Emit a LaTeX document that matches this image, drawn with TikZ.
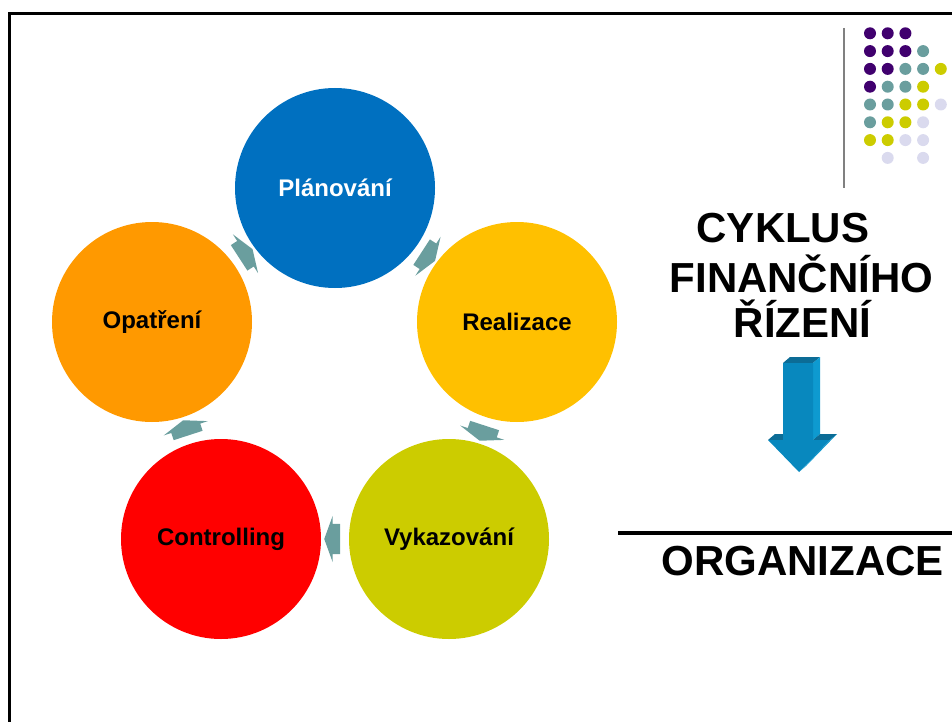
\documentclass[tikz,border=0pt]{standalone}
\usepackage{fontspec}
\setmainfont{Liberation Sans}
\usetikzlibrary{shapes.arrows,calc}

\definecolor{planblue}{RGB}{0,112,192}
\definecolor{realgold}{RGB}{255,192,0}
\definecolor{vykolive}{RGB}{204,204,0}
\definecolor{ctrlred}{RGB}{255,0,0}
\definecolor{opatorange}{RGB}{255,153,0}
\definecolor{flowteal}{RGB}{106,158,158}
\definecolor{dotpurple}{RGB}{64,0,110}
\definecolor{dotlav}{RGB}{218,218,238}
\definecolor{bigfront}{RGB}{8,136,190}
\definecolor{bigtop}{RGB}{12,108,150}
\definecolor{bigside}{RGB}{14,154,208}

\begin{document}
\begin{tikzpicture}[x=1pt, y=-1pt,
    main/.style = {circle, minimum size=200pt, inner sep=0pt, font=\fontsize{24}{28}\selectfont\bfseries},
    flow/.style = {single arrow, fill=flowteal, inner xsep=0pt, inner ysep=15pt, minimum height=16pt,
                   single arrow head extend=8pt, single arrow tip angle=140},
    dot/.style = {circle, inner sep=0pt, minimum size=12pt},
    title/.style = {anchor=base, font=\fontsize{42}{48}\selectfont\bfseries}]
            \useasboundingbox (0,0) rectangle (952,722);

            % Frame
            \draw[line width=3pt] (9,722) -- (9,13.5) -- (952,13.5);

            % Nodes
            \node[main, fill=planblue, text=white] (1) at (335,188) {Plánování};
            \node[main, fill=realgold] (2) at (517,322) {Realizace};
            \node[main, fill=vykolive] (3) at (449,539) {Vykazování};
            \node[main, fill=ctrlred] (4) at (221,539) {Controlling};
            \node[main, fill=opatorange] (5) at (152,322) {Opatření};

            % Arrows
            \node[flow, rotate=-33] (a12) at ($(1)!0.5!(2)$) {};
            \node[flow, rotate=-108] (a23) at ($(2)!0.5!(3)$) {};
            \node[flow, rotate=180] (a34) at ($(3)!0.5!(4)$) {};
            \node[flow, rotate=108] (a45) at ($(4)!0.5!(5)$) {};
            \node[flow, rotate=33] (a51) at ($(5)!0.5!(1)$) {};

            % Dots
            \foreach \c/\r in {0/0,1/0,2/0,0/1,1/1,2/1,0/2,1/2,0/3}
                \node[dot, fill=dotpurple] (p\c\r) at (870+17.7*\c,33.3+17.8*\r) {};
            \foreach \c/\r in {3/1,2/2,3/2,1/3,2/3,0/4,1/4,0/5}
                \node[dot, fill=flowteal] (t\c\r) at (870+17.7*\c,33.3+17.8*\r) {};
            \foreach \c/\r in {4/2,3/3,2/4,3/4,1/5,2/5,0/6,1/6}
                \node[dot, fill=vykolive] (y\c\r) at (870+17.7*\c,33.3+17.8*\r) {};
            \foreach \c/\r in {4/4,3/5,2/6,3/6,1/7,3/7}
                \node[dot, fill=dotlav] (l\c\r) at (870+17.7*\c,33.3+17.8*\r) {};
            \draw[gray, line width=1.5pt] (844,28) -- (844,188);

            % Title
            \node[title] (t1) at (783,242) {CYKLUS};
            \node[title] (t2) at (801.5,292) {FINANČNÍHO};
            \node[title] (t3) at (802.5,337) {ŘÍZENÍ};

            % Big arrow
            \fill[bigtop] (783,363) -- (790,357) -- (820,357) -- (813,363) -- cycle;
            \fill[bigside] (813,363) -- (820,357) -- (820,434) -- (813,440) -- cycle;
            \fill[bigtop] (768,440) -- (775,434) -- (790,434) -- (783,440) -- cycle;
            \fill[bigtop] (813,440) -- (820,434) -- (837,434) -- (830,440) -- cycle;
            \fill[bigside] (830,440) -- (837,434) -- (806,466) -- (799,472) -- cycle;
            \fill[bigfront] (783,363) -- (813,363) -- (813,440) -- (830,440) -- (799,472)
                -- (768,440) -- (783,440) -- cycle;

            % Organizace
            \draw[line width=3.5pt] (618,533) -- (952,533);
            \node[title] (org) at (802.5,575) {ORGANIZACE};
        \end{tikzpicture}
\end{document}
